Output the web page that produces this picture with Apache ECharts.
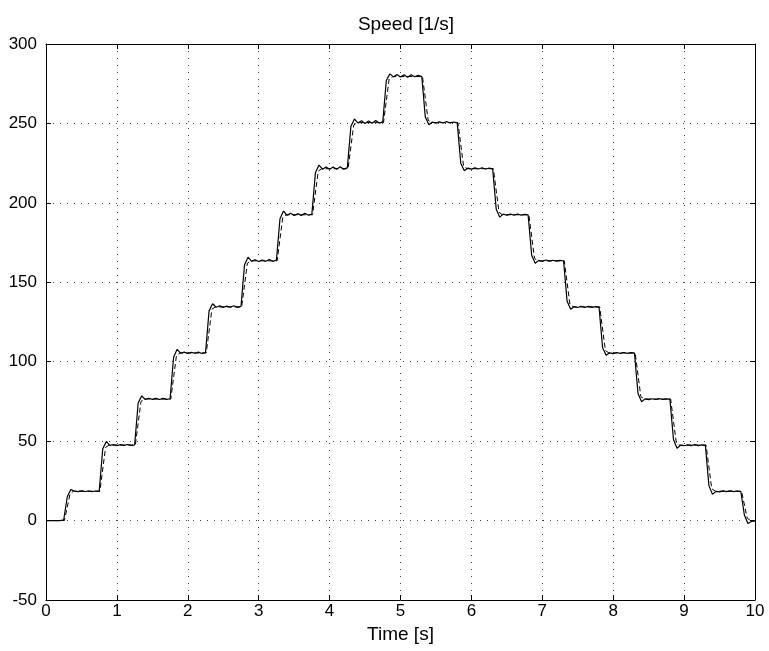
<!DOCTYPE html>
<html>
<head>
<meta charset="utf-8">
<script src="https://cdn.jsdelivr.net/npm/echarts@6/dist/echarts.min.js"></script>
<style>
  html, body { margin: 0; padding: 0; background: #fff; }
  #chart { width: 769px; height: 651px; }
</style>
</head>
<body>
<div id="chart"></div>
<script>
// sample times of the measured trace [s]
const TIME = [
  0, 0.05, 0.1, 0.15, 0.2, 0.25, 0.3, 0.35, 0.4, 0.45, 0.5, 0.55, 0.6, 0.65, 0.7, 0.75, 0.8, 0.85, 0.9, 0.95,
  1, 1.05, 1.1, 1.15, 1.2, 1.25, 1.3, 1.35, 1.4, 1.45, 1.5, 1.55, 1.6, 1.65, 1.7, 1.75, 1.8, 1.85, 1.9, 1.95,
  2, 2.05, 2.1, 2.15, 2.2, 2.25, 2.3, 2.35, 2.4, 2.45, 2.5, 2.55, 2.6, 2.65, 2.7, 2.75, 2.8, 2.85, 2.9, 2.95,
  3, 3.05, 3.1, 3.15, 3.2, 3.25, 3.3, 3.35, 3.4, 3.45, 3.5, 3.55, 3.6, 3.65, 3.7, 3.75, 3.8, 3.85, 3.9, 3.95,
  4, 4.05, 4.1, 4.15, 4.2, 4.25, 4.3, 4.35, 4.4, 4.45, 4.5, 4.55, 4.6, 4.65, 4.7, 4.75, 4.8, 4.85, 4.9, 4.95,
  5, 5.05, 5.1, 5.15, 5.2, 5.25, 5.3, 5.35, 5.4, 5.45, 5.5, 5.55, 5.6, 5.65, 5.7, 5.75, 5.8, 5.85, 5.9, 5.95,
  6, 6.05, 6.1, 6.15, 6.2, 6.25, 6.3, 6.35, 6.4, 6.45, 6.5, 6.55, 6.6, 6.65, 6.7, 6.75, 6.8, 6.85, 6.9, 6.95,
  7, 7.05, 7.1, 7.15, 7.2, 7.25, 7.3, 7.35, 7.4, 7.45, 7.5, 7.55, 7.6, 7.65, 7.7, 7.75, 7.8, 7.85, 7.9, 7.95,
  8, 8.05, 8.1, 8.15, 8.2, 8.25, 8.3, 8.35, 8.4, 8.45, 8.5, 8.55, 8.6, 8.65, 8.7, 8.75, 8.8, 8.85, 8.9, 8.95,
  9, 9.05, 9.1, 9.15, 9.2, 9.25, 9.3, 9.35, 9.4, 9.45, 9.5, 9.55, 9.6, 9.65, 9.7, 9.75, 9.8, 9.85, 9.9, 9.95,
  10
];

// measured speed (solid line) [1/s]
const SPEED_MEAS = [
  0, 0, 0, 0, 0, 0.5,
  15, 19.5, 18.6, 18.2, 18.7, 18.3, 18.6, 18.2, 18.6, 18.4,
  45, 49.8, 47.3, 47.9, 47.2, 47.8, 47.3, 47.9, 47.3, 47.6,
  74, 78.5, 76.2, 77, 76.3, 76.9, 76.2, 76.9, 76.3, 76.7,
  103, 107.8, 105.3, 106, 105.2, 105.9, 105.3, 106, 105.2, 105.8,
  132, 136.5, 134.3, 135.2, 134.2, 135, 134.3, 135.2, 134.2, 134.8,
  161, 165.8, 163.2, 164.2, 163.1, 164, 163.2, 164.3, 163.2, 164,
  190, 194.8, 192.2, 193.4, 192, 193.2, 192.1, 193.5, 192.2, 193,
  219, 223.8, 221.2, 222.6, 221.1, 222.5, 221.1, 222.7, 221.2, 222,
  248, 252.8, 250.2, 251.7, 250, 251.6, 250.1, 251.8, 250.2, 251,
  277, 281.2, 279.3, 280.8, 279.2, 280.7, 279.1, 280.6, 279.4, 280.3, 279.5,
  254, 249.2, 250.9, 250.2, 251, 250.3, 251.1, 250.3, 250.9, 250.4,
  225, 220.2, 221.9, 221.2, 222, 221.3, 222.1, 221.3, 221.9, 221.4,
  196, 191, 192.9, 192.2, 193, 192.3, 193, 192.3, 192.8, 192.4,
  167, 162, 163.8, 163.2, 164, 163.3, 163.9, 163.3, 163.8, 163.4,
  138, 133, 134.7, 134.1, 134.9, 134.2, 134.8, 134.2, 134.7, 134.4,
  109, 104, 105.6, 105.1, 105.8, 105.2, 105.8, 105.2, 105.7, 105.4,
  80, 74.8, 76.6, 76.1, 76.7, 76.2, 76.8, 76.2, 76.6, 76.4,
  51, 45.5, 47.4, 47.1, 47.7, 47.2, 47.8, 47.2, 47.6, 47.4,
  22, 16.5, 18.4, 18.1, 18.7, 18.2, 18.7, 18.2, 18.6, 18.3,
  3.5, -1.8, -0.6, -0.2
];

// reference / model speed (dashed line)
const REF_TIME = [
  0, 0.26, 0.34, 0.39, 0.76, 0.84, 0.89, 1.26, 1.34, 1.39, 1.76, 1.84, 1.89, 2.26, 2.34, 2.39,
  2.76, 2.84, 2.89, 3.26, 3.34, 3.39, 3.76, 3.84, 3.89, 4.26, 4.34, 4.39, 4.76, 4.84, 4.89,
  5.31, 5.39, 5.44, 5.81, 5.89, 5.94, 6.31, 6.39, 6.44, 6.81, 6.89, 6.94, 7.31, 7.39, 7.44,
  7.81, 7.89, 7.94, 8.31, 8.39, 8.44, 8.81, 8.89, 8.94, 9.31, 9.39, 9.44, 9.81, 9.89, 9.94, 10
];
const REF_SPEED = [
  0, 0, 17, 18.5, 18.5, 46, 47.5, 47.5, 75, 76.5, 76.5, 104, 105.5, 105.5, 133, 134.5,
  134.5, 162, 163.5, 163.5, 191, 192.5, 192.5, 220, 221.5, 221.5, 249, 250.5, 250.5, 278, 279.5,
  279.5, 252, 250.5, 250.5, 223, 221.5, 221.5, 194, 192.5, 192.5, 165, 163.5, 163.5, 136, 134.5,
  134.5, 107, 105.5, 105.5, 78, 76.5, 76.5, 49, 47.5, 47.5, 20, 18.5, 18.5, 1.5, 0, 0
];

const FONT = "'Liberation Sans', Arial, Helvetica, sans-serif";

const chart = echarts.init(document.getElementById('chart'), null, { renderer: 'canvas' });

const gridDots = { show: true, lineStyle: { color: '#444', width: 1, type: [1, 6] } };
const boxAxis = {
  axisLine: { show: true, onZero: false, lineStyle: { color: '#000', width: 1 } },
  axisTick: { show: true, inside: true, length: 5, lineStyle: { color: '#000' } },
};

chart.setOption({
  animation: false,
  backgroundColor: '#fff',
  title: {
    text: 'Speed [1/s]',
    left: 401,
    top: 10,
    textAlign: 'center',
    textStyle: { fontFamily: FONT, fontSize: 19, fontWeight: 'normal', color: '#000' },
  },
  grid: { left: 46, right: 14, top: 44, bottom: 51, containLabel: false },
  xAxis: [
    {
      type: 'value', min: 0, max: 10, interval: 1,
      name: 'Time [s]', nameLocation: 'middle', nameGap: 24,
      nameTextStyle: { fontFamily: FONT, fontSize: 19, color: '#000' },
      ...boxAxis,
      axisLabel: { fontFamily: FONT, fontSize: 17, color: '#000', margin: 3 },
      splitLine: gridDots,
    },
    {
      type: 'value', min: 0, max: 10, interval: 1, position: 'top',
      ...boxAxis,
      axisLabel: { show: false },
      splitLine: { show: false },
    },
  ],
  yAxis: [
    {
      type: 'value', min: -50, max: 300, interval: 50,
      ...boxAxis,
      axisLabel: { fontFamily: FONT, fontSize: 17, color: '#000', margin: 9 },
      splitLine: gridDots,
    },
    {
      type: 'value', min: -50, max: 300, interval: 50, position: 'right',
      ...boxAxis,
      axisLabel: { show: false },
      splitLine: { show: false },
    },
  ],
  series: [
    {
      name: 'reference',
      type: 'line',
      data: REF_TIME.map((t, i) => [t, REF_SPEED[i]]),
      showSymbol: false,
      lineStyle: { color: '#000', width: 1, type: [5, 3] },
      z: 3,
    },
    {
      name: 'measured',
      type: 'line',
      data: TIME.map((t, i) => [t, SPEED_MEAS[i]]),
      showSymbol: false,
      lineStyle: { color: '#000', width: 1.2 },
      z: 4,
    },
  ],
});
</script>
</body>
</html>
